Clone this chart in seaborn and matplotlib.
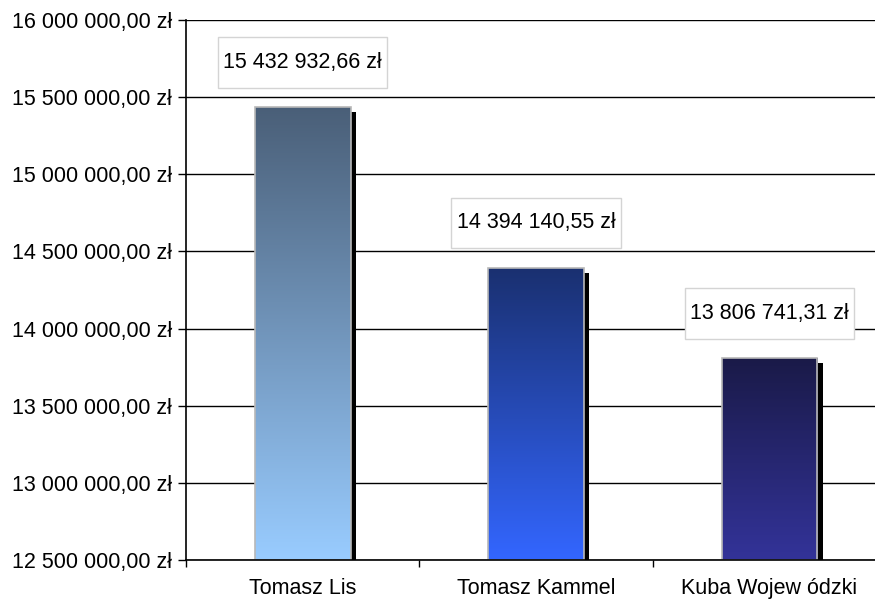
import numpy as np
import pandas as pd
import matplotlib
matplotlib.use("Agg")
import matplotlib.pyplot as plt
import matplotlib.patheffects as pe
from matplotlib.colors import LinearSegmentedColormap
from matplotlib.patches import Rectangle
from matplotlib.path import Path
import seaborn as sns

# Data
names = ["Tomasz Lis", "Tomasz Kammel", "Kuba Wojew ódzki"]
amounts = [15432932.66, 14394140.55, 13806741.31]
y_ticks = [12500000, 13000000, 13500000, 14000000, 14500000, 15000000, 15500000, 16000000]
# gradient colours per bar (top, bottom)
grad_top = ["#4A5F78", "#1A3070", "#1A1A48"]
grad_bottom = ["#99CCFF", "#3366FF", "#333399"]


def pln(v):
    s = f"{v:,.2f}".replace(",", " ").replace(".", ",")
    return s + " zł"


sns.set_theme(style="white")
plt.rcParams["font.family"] = ["Liberation Sans", "DejaVu Sans"]
plt.rcParams["text.color"] = "black"

FS = 15.5

fig = plt.figure(figsize=(8.75, 6.02), dpi=100)
ax = fig.add_axes([186 / 875, 42 / 602, 700 / 875, 540 / 602])

df = pd.DataFrame({"name": names, "amount": amounts})
sns.barplot(data=df, x="name", y="amount", ax=ax, width=0.41,
            color="white", saturation=1, zorder=3)

ax.set_ylim(y_ticks[0], y_ticks[-1])
ax.set_xlim(-0.5, 2.5)

# horizontal gridlines
for t in y_ticks:
    ax.axhline(t, color="black", lw=1, zorder=1)

# gradient fills, shadows and edges
for i, patch in enumerate(ax.patches[:len(names)]):
    x0, y0 = patch.get_x(), patch.get_y()
    w, h = patch.get_width(), patch.get_height()
    y_base = ax.get_ylim()[0]
    patch.set_path_effects([
        pe.SimplePatchShadow(offset=(4, -3.6), shadow_rgbFace="black", alpha=1),
        pe.Normal(),
    ])
    patch.set_edgecolor("none")
    cmap = LinearSegmentedColormap.from_list(f"g{i}", [grad_bottom[i], grad_top[i]])
    grad = np.linspace(0, 1, 256).reshape(-1, 1)
    im = ax.imshow(grad, cmap=cmap, origin="lower", aspect="auto",
                   extent=(x0, x0 + w, y_base, y0 + h), zorder=4)
    im.set_clip_path(patch)
    ax.add_patch(Rectangle((x0, y_base), w, y0 + h - y_base, fill=False,
                           edgecolor="#B8B8B8", lw=1.2, zorder=5))

ax.set_xlim(-0.5, 2.5)
ax.set_ylim(y_ticks[0], y_ticks[-1])


def label_box(x0, y0, width, height, mutation_size):
    padx = 0.25 * mutation_size
    pady = 0.68 * mutation_size
    x0, y0 = x0 - padx, y0 - pady
    x1, y1 = x0 + width + 2 * padx, y0 + height + 2 * pady
    return Path([(x0, y0), (x1, y0), (x1, y1), (x0, y1), (x0, y0)], closed=True)


for i, v in enumerate(amounts):
    ax.annotate(pln(v), xy=(i, v), xytext=(0, 32.4), textcoords="offset points",
                ha="center", va="center", fontsize=FS, color="black", zorder=6,
                bbox=dict(boxstyle=label_box, facecolor="white",
                          edgecolor="#D4D4D4", lw=1))

# axes styling
ax.set_yticks(y_ticks)
ax.set_yticklabels([pln(t) for t in y_ticks], fontsize=FS)
ax.set_xticks(range(len(names)))
ax.set_xticklabels(names, fontsize=FS)
ax.set_xticks([-0.5, 0.5, 1.5, 2.5], minor=True)
ax.tick_params(axis="x", which="major", length=0, pad=13, labelcolor="black")
ax.tick_params(axis="x", which="minor", length=5, width=1, color="black", direction="out", bottom=True)
ax.tick_params(axis="y", which="major", length=6, width=1, color="black", direction="out",
               left=True, pad=4, labelcolor="black")
ax.set_xlabel("")
ax.set_ylabel("")
for side in ["top", "right"]:
    ax.spines[side].set_visible(False)
for side in ["left", "bottom"]:
    ax.spines[side].set_color("black")
    ax.spines[side].set_linewidth(1.2)
    ax.spines[side].set_zorder(7)

fig.savefig("out.png", dpi=100)
